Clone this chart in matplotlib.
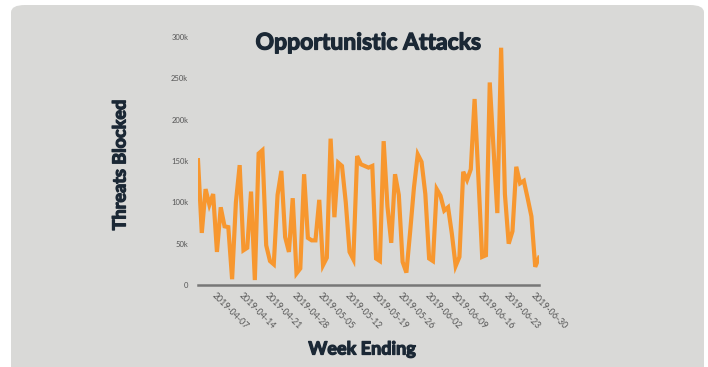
import pandas as pd
import matplotlib
matplotlib.use("Agg")
import matplotlib.pyplot as plt
import matplotlib.dates as mdates
import matplotlib.patheffects as pe
from matplotlib.patches import FancyBboxPatch
from matplotlib.ticker import FuncFormatter

# daily threats blocked, in thousands, starting 2019-04-02
start_date = "2019-04-02"
threats_k = [
    151, 63, 116, 97, 110, 40, 94, 71, 70, 7,
    100, 145, 42, 45, 113, 6, 159, 163, 48, 29,
    25, 109, 138, 58, 40, 105, 14, 20, 134, 57,
    54, 54, 103, 24, 33, 177, 82, 148, 144, 100,
    40, 31, 156, 146, 144, 142, 144, 32, 29, 174,
    95, 51, 134, 109, 28, 15, 65, 118, 158, 149,
    110, 32, 29, 116, 108, 90, 94, 62, 23, 34,
    137, 127, 140, 225, 130, 34, 36, 245, 165, 87,
    287, 110, 50, 65, 143, 123, 126, 105, 83, 22,
    33,
]
week_ticks = ["2019-04-07", "2019-04-14", "2019-04-21", "2019-04-28",
              "2019-05-05", "2019-05-12", "2019-05-19", "2019-05-26",
              "2019-06-02", "2019-06-09", "2019-06-16", "2019-06-23",
              "2019-06-30"]
y_ticks = [0, 50000, 100000, 150000, 200000, 250000, 300000]

dates = pd.date_range(start_date, periods=len(threats_k), freq="D")
values = [v * 1000 for v in threats_k]

W, H = 708, 367
fig = plt.figure(figsize=(W / 100, H / 100), dpi=100)
fig.patch.set_facecolor("white")

# rounded grey card behind the chart
card = FancyBboxPatch((11 / W, -0.05), 693 / W, 1.05 - 5 / H,
                      boxstyle="round,pad=0,rounding_size=0.02",
                      transform=fig.transFigure, facecolor="#d9d9d7",
                      edgecolor="none", zorder=-1)
fig.patches.append(card)

ax = fig.add_axes([198 / W, 82 / H, 341 / W, 248 / H])
ax.set_zorder(2)
ax.set_facecolor("none")
ax.plot(dates, values, color="#f7972f", linewidth=3.0, solid_joinstyle="miter")

ax.set_xlim(dates[0], dates[-1])
ax.set_ylim(0, 300000)

for side in ["top", "right", "left"]:
    ax.spines[side].set_visible(False)
ax.spines["bottom"].set_color("#777777")
ax.spines["bottom"].set_linewidth(1.8)

ax.set_xticks(pd.to_datetime(week_ticks))
ax.xaxis.set_major_formatter(mdates.DateFormatter("%Y-%m-%d"))
ax.set_yticks(y_ticks)
ax.yaxis.set_major_formatter(FuncFormatter(lambda v, p: "0" if v == 0 else f"{int(v / 1000)}k"))

ax.tick_params(axis="both", length=0, colors="#555555")
ax.tick_params(axis="y", labelsize=5.5, pad=7)
ax.tick_params(axis="x", labelsize=6.3, pad=4)
for lbl in ax.get_xticklabels():
    lbl.set_rotation(-45)
    lbl.set_ha("left")
    lbl.set_va("top")
    lbl.set_rotation_mode("anchor")
for lbl in ax.get_xticklabels() + ax.get_yticklabels():
    lbl.set_family("Lato")

# headings: heavy dark navy, thickened with a thin stroke
dark = "#1b2835"
heavy = [pe.withStroke(linewidth=0.9, foreground=dark)]
fig.text(368 / W, 1 - 43 / H, "Opportunistic Attacks", ha="center", va="center",
         fontsize=16.5, fontweight="bold", color=dark, family="Lato",
         zorder=3, path_effects=heavy)
fig.text(120 / W, 1 - 165 / H, "Threats Blocked", ha="center", va="center",
         rotation=90, fontsize=13, fontweight="bold", color=dark, family="Lato",
         path_effects=heavy)
fig.text(362 / W, 1 - 349 / H, "Week Ending", ha="center", va="center",
         fontsize=13, fontweight="bold", color=dark, family="Lato",
         path_effects=heavy)

fig.savefig("out.png", dpi=100, facecolor=fig.get_facecolor())
